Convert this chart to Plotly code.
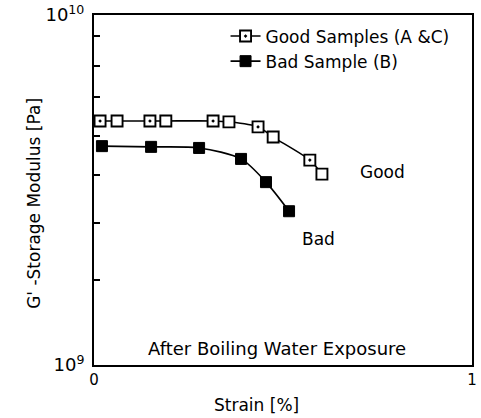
import plotly.graph_objects as go

# ---- data ----
good_a_strain = [0.016, 0.148, 0.315, 0.434, 0.571]
good_a_G = [4.98e9, 4.98e9, 4.98e9, 4.79e9, 3.85e9]
good_c_strain = [0.061, 0.190, 0.357, 0.474, 0.603]
good_c_G = [4.98e9, 4.98e9, 4.95e9, 4.48e9, 3.51e9]
bad_strain = [0.021, 0.151, 0.278, 0.389, 0.455, 0.516]
bad_G = [4.22e9, 4.20e9, 4.17e9, 3.88e9, 3.33e9, 2.75e9]

y_minor_ticks = [1.75e9, 2.55e9, 3.5e9, 4.5e9, 5.85e9, 7.15e9, 8.7e9]
y_major_ticks = [1e9, 1e10]
y_major_labels = ["10<sup>9</sup>", "10<sup>10</sup>"]
x_ticks = [0, 1]
x_tick_labels = ["0", "1"]

FONT = "DejaVu Sans"
FS = 17

# combine A and C samples into one curve, each keeping its own marker
good_pts = sorted(
    [(x, y, "square-dot") for x, y in zip(good_a_strain, good_a_G)]
    + [(x, y, "square") for x, y in zip(good_c_strain, good_c_G)]
)
good_x = [p[0] for p in good_pts]
good_y = [p[1] for p in good_pts]
good_sym = [p[2] for p in good_pts]

fig = go.Figure()
fig.add_trace(go.Scatter(
    x=good_x, y=good_y, mode="lines+markers",
    name="Good Samples (A &C)",
    line=dict(color="black", width=1.6, shape="spline", smoothing=0.8),
    marker=dict(symbol=good_sym, size=11, color="white",
                line=dict(color="black", width=1.9)),
))
fig.add_trace(go.Scatter(
    x=bad_strain, y=bad_G, mode="lines+markers",
    name="Bad Sample (B)",
    line=dict(color="black", width=1.6, shape="spline", smoothing=0.8),
    marker=dict(symbol="square", size=11, color="black",
                line=dict(color="black", width=1)),
))

fig.update_layout(
    width=481, height=418,
    margin=dict(l=94, r=9, t=15, b=53, autoexpand=False),
    paper_bgcolor="white", plot_bgcolor="white",
    font=dict(family=FONT, size=FS, color="black"),
    showlegend=True,
    legend=dict(x=0.348, y=0.99, xanchor="left", yanchor="top",
                bgcolor="rgba(0,0,0,0)", borderwidth=0,
                font=dict(family=FONT, size=FS, color="black"),
                tracegroupgap=0),
    xaxis=dict(range=[0, 1], tickvals=x_ticks, ticktext=x_tick_labels,
               automargin=False,
               showgrid=False, zeroline=False, showline=True, mirror=True,
               linecolor="black", linewidth=2, ticks="",
               tickfont=dict(family=FONT, size=15)),
    yaxis=dict(type="log", range=[9, 10], tickvals=y_major_ticks,
               ticktext=y_major_labels, automargin=False,
               showgrid=False, zeroline=False, showline=True, mirror=True,
               linecolor="black", linewidth=2, ticks="inside", ticklen=6,
               tickwidth=1.5, tickcolor="black", ticklabelstandoff=4,
               minor=dict(tickvals=y_minor_ticks, ticks="inside", ticklen=6,
                          tickwidth=1.5, tickcolor="black", showgrid=False),
               tickfont=dict(family=FONT, size=18)),
    annotations=[
        dict(text="Good", x=0.698, y=9.5514, xref="x", yref="y",
             xanchor="left", yanchor="middle", showarrow=False,
             font=dict(family=FONT, size=FS)),
        dict(text="Bad", x=0.545, y=9.36, xref="x", yref="y",
             xanchor="left", yanchor="middle", showarrow=False,
             font=dict(family=FONT, size=FS)),
        dict(text="After Boiling Water Exposure", x=0.483, y=0.046,
             xref="paper", yref="paper", xanchor="center", yanchor="middle",
             showarrow=False, font=dict(family=FONT, size=18)),
        dict(text="Strain [%]", x=0.431, y=-0.114,
             xref="paper", yref="paper", xanchor="center", yanchor="middle",
             showarrow=False, font=dict(family=FONT, size=FS)),
        dict(text="G' -Storage Modulus [Pa]", x=-0.159, y=0.463,
             xref="paper", yref="paper", xanchor="center", yanchor="middle",
             textangle=-90, showarrow=False, font=dict(family=FONT, size=FS)),
    ],
)

fig.write_html(
    "out.html",
    config={"displayModeBar": False},
    post_script="document.body.style.margin='0';document.body.style.overflow='hidden';",
)
